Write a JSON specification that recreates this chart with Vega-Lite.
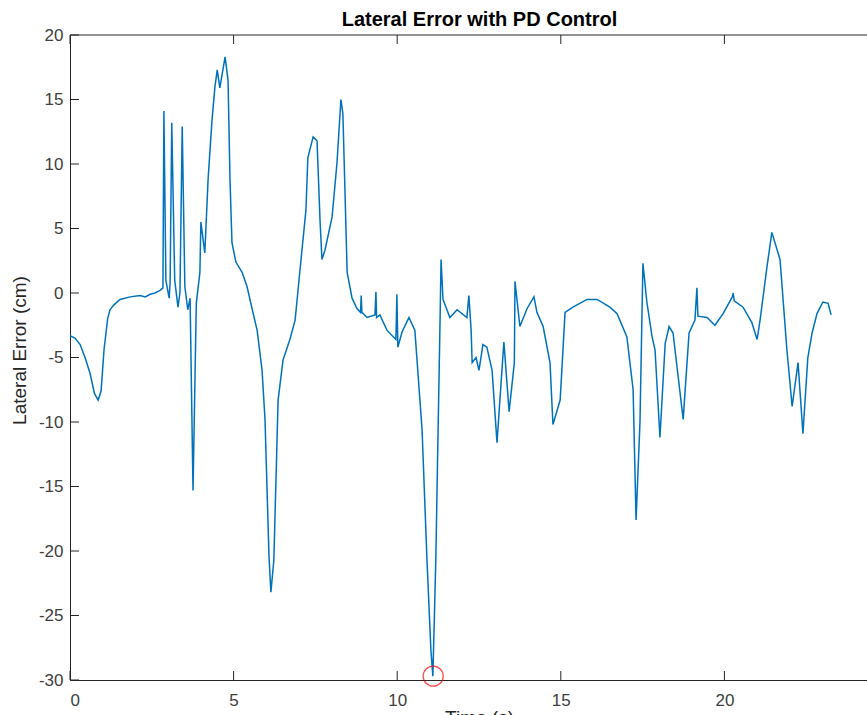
{
  "$schema": "https://vega.github.io/schema/vega-lite/v6.json",
  "width": 797,
  "height": 645,
  "autosize": {"type": "none"},
  "padding": {"left": 70, "top": 35, "right": 0, "bottom": 35},
  "background": "white",
  "title": {
    "text": "Lateral Error with PD Control",
    "font": "Liberation Sans",
    "fontSize": 20,
    "fontWeight": "bold",
    "color": "#000000",
    "anchor": "middle",
    "dx": 11,
    "offset": -4
  },
  "datasets": {
    "err": [
      {"t": 0, "e": -3.3}, {"t": 0.15, "e": -3.5}, {"t": 0.31, "e": -4.0}, {"t": 0.46, "e": -5.0},
      {"t": 0.61, "e": -6.2}, {"t": 0.75, "e": -7.8}, {"t": 0.86, "e": -8.3}, {"t": 0.95, "e": -7.6},
      {"t": 1.04, "e": -4.4}, {"t": 1.15, "e": -2.0}, {"t": 1.22, "e": -1.3}, {"t": 1.35, "e": -0.9},
      {"t": 1.53, "e": -0.5}, {"t": 1.84, "e": -0.3}, {"t": 2.14, "e": -0.2}, {"t": 2.3, "e": -0.3},
      {"t": 2.45, "e": -0.1}, {"t": 2.6, "e": 0.0}, {"t": 2.75, "e": 0.2}, {"t": 2.84, "e": 0.4},
      {"t": 2.87, "e": 14.1}, {"t": 2.93, "e": 1.0}, {"t": 3.03, "e": -0.4}, {"t": 3.06, "e": 0.8},
      {"t": 3.11, "e": 13.2}, {"t": 3.2, "e": 1.0}, {"t": 3.3, "e": -1.1}, {"t": 3.36, "e": 0.0},
      {"t": 3.43, "e": 12.9}, {"t": 3.51, "e": 0.5}, {"t": 3.6, "e": -1.3}, {"t": 3.67, "e": -0.4},
      {"t": 3.76, "e": -15.3}, {"t": 3.86, "e": -0.8}, {"t": 3.97, "e": 1.6}, {"t": 4.0, "e": 5.5},
      {"t": 4.12, "e": 3.1}, {"t": 4.22, "e": 8.8}, {"t": 4.34, "e": 13.4}, {"t": 4.43, "e": 16.0},
      {"t": 4.5, "e": 17.3}, {"t": 4.58, "e": 15.9}, {"t": 4.74, "e": 18.3}, {"t": 4.83, "e": 16.5},
      {"t": 4.89, "e": 8.8}, {"t": 4.95, "e": 3.9}, {"t": 5.07, "e": 2.4}, {"t": 5.26, "e": 1.6},
      {"t": 5.41, "e": 0.5}, {"t": 5.59, "e": -1.5}, {"t": 5.72, "e": -2.9}, {"t": 5.87, "e": -6.0},
      {"t": 5.96, "e": -9.8}, {"t": 6.08, "e": -20.3}, {"t": 6.14, "e": -23.2}, {"t": 6.23, "e": -20.7},
      {"t": 6.36, "e": -8.3}, {"t": 6.51, "e": -5.2}, {"t": 6.72, "e": -3.6}, {"t": 6.88, "e": -2.1},
      {"t": 7.03, "e": 1.8}, {"t": 7.21, "e": 6.4}, {"t": 7.27, "e": 10.5}, {"t": 7.43, "e": 12.1},
      {"t": 7.55, "e": 11.8}, {"t": 7.64, "e": 5.7}, {"t": 7.7, "e": 2.6}, {"t": 7.79, "e": 3.3},
      {"t": 8.01, "e": 5.9}, {"t": 8.16, "e": 10.1}, {"t": 8.28, "e": 15.0}, {"t": 8.34, "e": 13.9},
      {"t": 8.47, "e": 1.6}, {"t": 8.62, "e": -0.4}, {"t": 8.77, "e": -1.2}, {"t": 8.88, "e": -1.5},
      {"t": 8.9, "e": -0.2}, {"t": 8.92, "e": -1.5}, {"t": 9.08, "e": -1.9}, {"t": 9.32, "e": -1.7},
      {"t": 9.35, "e": 0.1}, {"t": 9.37, "e": -1.9}, {"t": 9.47, "e": -1.7}, {"t": 9.69, "e": -2.9},
      {"t": 9.96, "e": -3.6}, {"t": 9.99, "e": -0.1}, {"t": 10.02, "e": -4.2}, {"t": 10.15, "e": -3.0},
      {"t": 10.36, "e": -1.9}, {"t": 10.54, "e": -2.9}, {"t": 10.76, "e": -10.6}, {"t": 10.91, "e": -20.7},
      {"t": 11.03, "e": -27.7}, {"t": 11.09, "e": -29.7}, {"t": 11.18, "e": -20.7}, {"t": 11.25, "e": -10.6},
      {"t": 11.31, "e": -2.1}, {"t": 11.34, "e": 2.6}, {"t": 11.4, "e": -0.5}, {"t": 11.61, "e": -1.9},
      {"t": 11.83, "e": -1.3}, {"t": 12.13, "e": -1.9}, {"t": 12.19, "e": -0.2}, {"t": 12.26, "e": -2.9},
      {"t": 12.29, "e": -5.4}, {"t": 12.41, "e": -5.0}, {"t": 12.5, "e": -6.0}, {"t": 12.62, "e": -4.0},
      {"t": 12.74, "e": -4.2}, {"t": 12.9, "e": -6.0}, {"t": 13.05, "e": -11.6}, {"t": 13.26, "e": -3.8},
      {"t": 13.42, "e": -9.2}, {"t": 13.58, "e": -5.4}, {"t": 13.6, "e": 0.9}, {"t": 13.75, "e": -2.6},
      {"t": 13.97, "e": -1.2}, {"t": 14.18, "e": -0.3}, {"t": 14.27, "e": -1.5}, {"t": 14.46, "e": -2.6},
      {"t": 14.67, "e": -5.4}, {"t": 14.76, "e": -10.2}, {"t": 14.98, "e": -8.3}, {"t": 15.13, "e": -1.5},
      {"t": 15.37, "e": -1.1}, {"t": 15.8, "e": -0.5}, {"t": 16.11, "e": -0.5}, {"t": 16.5, "e": -1.1},
      {"t": 16.72, "e": -1.6}, {"t": 17.02, "e": -3.4}, {"t": 17.21, "e": -7.5}, {"t": 17.3, "e": -17.6},
      {"t": 17.42, "e": -10.0}, {"t": 17.51, "e": 2.3}, {"t": 17.63, "e": -0.7}, {"t": 17.79, "e": -3.4},
      {"t": 17.88, "e": -4.4}, {"t": 18.03, "e": -11.2}, {"t": 18.19, "e": -3.9}, {"t": 18.31, "e": -2.6},
      {"t": 18.43, "e": -3.1}, {"t": 18.74, "e": -9.8}, {"t": 18.92, "e": -3.1}, {"t": 19.1, "e": -2.1},
      {"t": 19.16, "e": 0.4}, {"t": 19.19, "e": -1.8}, {"t": 19.47, "e": -1.9}, {"t": 19.71, "e": -2.5},
      {"t": 19.96, "e": -1.6}, {"t": 20.24, "e": -0.3}, {"t": 20.27, "e": 0.0}, {"t": 20.3, "e": -0.6},
      {"t": 20.57, "e": -1.1}, {"t": 20.84, "e": -2.3}, {"t": 21.0, "e": -3.6}, {"t": 21.09, "e": -2.1},
      {"t": 21.3, "e": 2.0}, {"t": 21.45, "e": 4.7}, {"t": 21.7, "e": 2.6}, {"t": 21.91, "e": -4.4},
      {"t": 22.07, "e": -8.8}, {"t": 22.25, "e": -5.4}, {"t": 22.4, "e": -10.9}, {"t": 22.55, "e": -5.0},
      {"t": 22.68, "e": -3.1}, {"t": 22.83, "e": -1.6}, {"t": 23.01, "e": -0.7}, {"t": 23.17, "e": -0.8},
      {"t": 23.26, "e": -1.7}
    ],
    "marker": [{"t": 11.1, "e": -29.7}],
    "xticks": [{"v": 0}, {"v": 5}, {"v": 10}, {"v": 15}, {"v": 20}],
    "yticks": [{"v": -30}, {"v": -25}, {"v": -20}, {"v": -15}, {"v": -10}, {"v": -5}, {"v": 0}, {"v": 5}, {"v": 10}, {"v": 15}, {"v": 20}],
    "frame": [{"x0": 0, "x1": 24.358, "y0": 20}]
  },
  "config": {
    "view": {"stroke": null},
    "axis": {
      "grid": false,
      "ticks": false,
      "domainColor": "#262626",
      "domainWidth": 1,
      "labelFont": "Liberation Sans",
      "labelFontSize": 17,
      "labelColor": "#404040",
      "titleFont": "Liberation Sans",
      "titleFontSize": 19,
      "titleFontWeight": "normal",
      "titleColor": "#262626"
    }
  },
  "layer": [
    {
      "data": {"name": "err"},
      "mark": {"type": "line", "color": "#0072BD", "strokeWidth": 1.5, "clip": true},
      "encoding": {
        "x": {
          "field": "t", "type": "quantitative",
          "scale": {"domain": [0, 24.358], "nice": false, "zero": false},
          "axis": {
            "orient": "bottom", "values": [0, 5, 10, 15, 20],
            "labelPadding": 12, "labelExpr": "'' + datum.value",
            "title": "Time (s)", "titleX": 409, "titleY": 28,
            "titleBaseline": "top", "titleAlign": "center", "titleAnchor": null
          }
        },
        "y": {
          "field": "e", "type": "quantitative",
          "scale": {"domain": [-30, 20], "nice": false, "zero": false},
          "axis": {
            "orient": "left", "values": [-30, -25, -20, -15, -10, -5, 0, 5, 10, 15, 20],
            "labelPadding": 7, "labelExpr": "'' + datum.value",
            "title": "Lateral Error (cm)", "titleX": -45, "titleY": 315,
            "titleAngle": 270, "titleBaseline": "alphabetic", "titleAlign": "center", "titleAnchor": null
          }
        }
      }
    },
    {
      "data": {"name": "xticks"},
      "mark": {"type": "rule", "color": "#262626", "strokeWidth": 1},
      "encoding": {
        "x": {"field": "v", "type": "quantitative"},
        "y": {"datum": -30},
        "y2": {"datum": -29.3}
      }
    },
    {
      "data": {"name": "xticks"},
      "mark": {"type": "rule", "color": "#262626", "strokeWidth": 1},
      "encoding": {
        "x": {"field": "v", "type": "quantitative"},
        "y": {"datum": 20},
        "y2": {"datum": 19.3}
      }
    },
    {
      "data": {"name": "yticks"},
      "mark": {"type": "rule", "color": "#262626", "strokeWidth": 1},
      "encoding": {
        "y": {"field": "v", "type": "quantitative"},
        "x": {"datum": 0},
        "x2": {"datum": 0.275}
      }
    },
    {
      "data": {"name": "frame"},
      "mark": {"type": "rule", "color": "#262626", "strokeWidth": 1},
      "encoding": {
        "x": {"field": "x0", "type": "quantitative"},
        "x2": {"field": "x1"},
        "y": {"field": "y0", "type": "quantitative"}
      }
    },
    {
      "data": {"name": "marker"},
      "mark": {"type": "point", "shape": "circle", "filled": false, "color": "#ff0000", "size": 400, "strokeWidth": 1.3},
      "encoding": {
        "x": {"field": "t", "type": "quantitative"},
        "y": {"field": "e", "type": "quantitative"}
      }
    }
  ]
}
